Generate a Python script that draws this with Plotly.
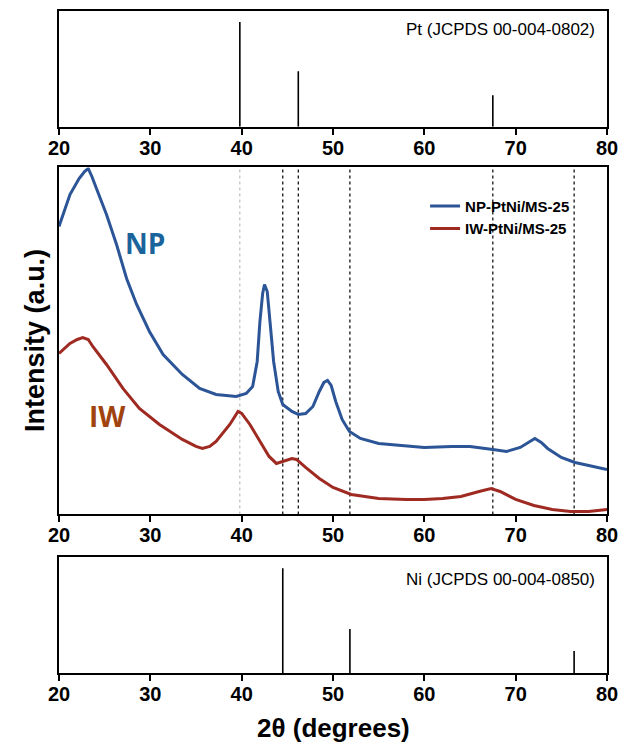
import plotly.graph_objects as go

# ---------------- data ----------------
# Reference patterns (2theta, relative intensity)
pt_2theta = [39.8, 46.2, 67.5]
pt_intensity = [100, 53, 30]
ni_2theta = [44.5, 51.85, 76.4]
ni_intensity = [100, 42, 21]

# dotted guide lines in the middle panel
guide_pt = [39.8]
guide_ni_pt = [44.5, 46.2, 51.85, 67.5, 76.4]

np_2theta = [20, 20.5, 21.2, 22.2, 22.8, 23.2, 23.6, 24.1, 25.2, 26.3, 27.4, 28.5, 29.9,
             31.4, 33.5, 35.4, 37.2, 39.4, 40.5, 41.2, 41.7, 42.0, 42.3, 42.5, 42.8, 43.1,
             43.5, 44.0, 44.5, 45.5, 46.2, 47.0, 47.8, 48.5, 49.0, 49.4, 49.8, 50.3, 51.0,
             51.8, 53.0, 55.0, 58.0, 60.0, 63.0, 65.0, 67.5, 69.0, 70.5, 71.5, 72.1, 72.8,
             73.5, 75.0, 76.5, 78.0, 80.0]
np_intensity = [288, 301, 320, 336, 343, 346, 338, 326, 300, 270, 236, 210, 183,
                160, 140, 126, 120, 118, 121, 128, 153, 193, 221, 230, 223, 193,
                153, 123, 110, 103, 100, 101, 108, 123, 132, 134, 129, 113, 95,
                83, 76, 71, 69, 67, 68, 68, 65, 63, 67, 73, 76, 72,
                66, 57, 52, 49, 45]

iw_2theta = [20, 21.2, 22.0, 22.6, 23.2, 23.7, 25.2, 27.0, 28.8, 31.0, 33.5, 35.0, 35.7,
             36.5, 37.2, 38.7, 39.6, 40.0, 40.9, 42.0, 43.0, 43.8, 44.6, 45.5, 46.0, 47.0,
             48.5, 50.0, 52.0, 55.0, 58.0, 60.0, 62.0, 64.0, 66.0, 67.3, 68.3, 70.0, 72.0,
             74.0, 76.0, 78.0, 80.0]
iw_intensity = [161, 171, 175, 177, 175, 168, 150, 126, 106, 90, 75, 68, 66,
                68, 73, 90, 103, 101, 90, 73, 58, 51, 53, 56, 55, 47,
                36, 27, 20, 16, 15, 15, 16, 18, 23, 26, 23, 15, 9,
                5, 3, 3, 5]

x_ticks = [20, 30, 40, 50, 60, 70, 80]
series_names = ["NP-PtNi/MS-25", "IW-PtNi/MS-25"]

# ---------------- figure ----------------
fig = go.Figure()

BLUE = "#2c5597"
RED = "#9e2a22"


def sticks(xs, hs):
    X, Y = [], []
    for x, h in zip(xs, hs):
        X += [x, x, None]
        Y += [0, h, None]
    return X, Y


px_, py_ = sticks(pt_2theta, pt_intensity)
fig.add_trace(go.Scatter(x=px_, y=py_, mode="lines", line=dict(color="black", width=1.6),
                         xaxis="x3", yaxis="y3", showlegend=False, hoverinfo="skip"))
nx_, ny_ = sticks(ni_2theta, ni_intensity)
fig.add_trace(go.Scatter(x=nx_, y=ny_, mode="lines", line=dict(color="black", width=1.6),
                         xaxis="x", yaxis="y", showlegend=False, hoverinfo="skip"))

fig.add_trace(go.Scatter(x=np_2theta, y=np_intensity, mode="lines", name=series_names[0],
                         line=dict(color=BLUE, width=3), xaxis="x2", yaxis="y2"))
fig.add_trace(go.Scatter(x=iw_2theta, y=iw_intensity, mode="lines", name=series_names[1],
                         line=dict(color=RED, width=3), xaxis="x2", yaxis="y2"))

for g in guide_pt:
    fig.add_shape(type="line", xref="x2", yref="y2 domain", x0=g, x1=g, y0=0, y1=1,
                  line=dict(color="#b0b0b0", width=1, dash="dot"), layer="below")
for g in guide_ni_pt:
    fig.add_shape(type="line", xref="x2", yref="y2 domain", x0=g, x1=g, y0=0, y1=1,
                  line=dict(color="black", width=1.2, dash="dot"), layer="below")

tickfont = dict(family="Liberation Sans, Arial", size=20, color="black", weight="bold")
xcommon = dict(range=[20, 80], tickmode="array", tickvals=x_ticks, showline=True, mirror=True,
               linecolor="black", linewidth=2, ticks="outside", ticklen=6, tickwidth=2,
               tickcolor="black", tickfont=tickfont, showgrid=False, zeroline=False,
               ticklabelstandoff=-4)
ycommon = dict(showline=True, mirror=True, linecolor="black", linewidth=2, showticklabels=False,
               ticks="", showgrid=False, zeroline=False)

fig.update_layout(
    width=627, height=742,
    margin=dict(l=59, r=19, t=9, b=69),
    paper_bgcolor="white", plot_bgcolor="white",
    xaxis=dict(domain=[0, 1], anchor="y", **xcommon),
    yaxis=dict(domain=[0, 0.1747], range=[0, 110.5], **ycommon),
    xaxis2=dict(domain=[0, 1], anchor="y2", **xcommon),
    yaxis2=dict(domain=[0.2395, 0.7636], range=[0, 347], **ycommon),
    xaxis3=dict(domain=[0, 1], anchor="y3", **xcommon),
    yaxis3=dict(domain=[0.8253, 1], range=[0, 110.5], **ycommon),
    legend=dict(x=0.668, y=0.73, xanchor="left", yanchor="top", bgcolor="rgba(0,0,0,0)",
                font=dict(family="Liberation Sans, Arial", size=15, color="black", weight="bold"),
                tracegroupgap=0, itemwidth=30),
    showlegend=True,
)

fig.add_annotation(text="Pt (JCPDS 00-004-0802)", xref="x3 domain", yref="y3 domain",
                   x=0.982, y=0.84, xanchor="right", yanchor="middle", showarrow=False,
                   font=dict(family="Liberation Sans, Arial", size=17, color="black"))
fig.add_annotation(text="Ni (JCPDS 00-004-0850)", xref="x domain", yref="y domain",
                   x=0.982, y=0.81, xanchor="right", yanchor="middle", showarrow=False,
                   font=dict(family="Liberation Sans, Arial", size=17, color="black"))

fig.add_annotation(text="NP", xref="x2", yref="y2", x=29.4, y=271, showarrow=False,
                   font=dict(family="Open Sans", size=28, color="#1b639b", weight="bold"))
fig.add_annotation(text="IW", xref="x2", yref="y2", x=25.3, y=98, showarrow=False,
                   font=dict(family="Open Sans", size=28, color="#a0430f", weight="bold"))

fig.add_annotation(text="Intensity (a.u.)", xref="paper", yref="paper", x=-0.044, y=0.503,
                   textangle=-90, showarrow=False, xanchor="center", yanchor="middle",
                   font=dict(family="Liberation Sans, Arial", size=27, color="black", weight="bold"))
fig.add_annotation(text="2θ (degrees)", xref="paper", yref="paper", x=0.5, y=-0.083,
                   showarrow=False, xanchor="center", yanchor="middle",
                   font=dict(family="Liberation Sans, Arial", size=26, color="black", weight="bold"))

fig.write_html("out.html", config={"displayModeBar": False},
               post_script="document.body.style.margin='0';document.body.style.padding='0';")
